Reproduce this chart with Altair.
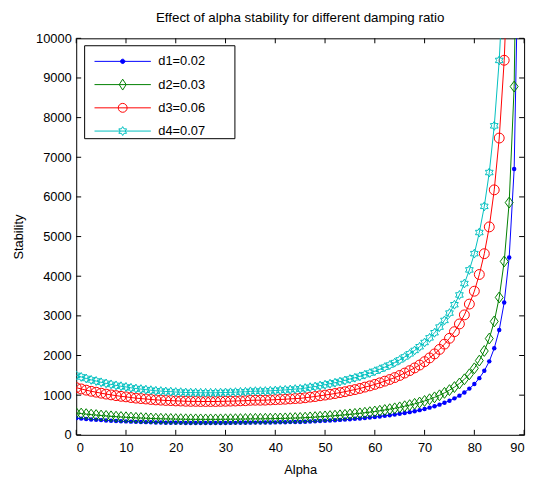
import altair as alt
import pandas as pd

# ---------------- data ----------------
alpha = [0, 1, 2, 3, 4, 5, 6, 7, 8, 9, 10, 11, 12, 13, 14, 15, 16, 17, 18, 19,
         20, 21, 22, 23, 24, 25, 26, 27, 28, 29, 30, 31, 32, 33, 34, 35, 36, 37, 38, 39,
         40, 41, 42, 43, 44, 45, 46, 47, 48, 49, 50, 51, 52, 53, 54, 55, 56, 57, 58, 59,
         60, 61, 62, 63, 64, 65, 66, 67, 68, 69, 70, 71, 72, 73, 74, 75, 76, 77, 78, 79,
         80, 81, 82, 83, 84, 85, 86, 87, 88, 89]

d1 = [420, 409, 398, 388, 380, 371, 363, 356, 349, 343,
      338, 332, 327, 323, 319, 315, 311, 309, 306, 305,
      302, 301, 299, 298, 298, 297, 297, 297, 297, 298,
      299, 300, 301, 303, 304, 307, 308, 308, 309, 311,
      313, 315, 317, 320, 323, 325, 330, 336, 341, 348,
      354, 361, 368, 376, 384, 394, 403, 413, 425, 436,
      449, 463, 478, 493, 510, 529, 550, 572, 596, 622,
      652, 685, 721, 761, 808, 860, 919, 988, 1069, 1165,
      1280, 1429, 1614, 1853, 2183, 2645, 3338, 4471, 6705, 13408]

d2 = [550, 536, 521, 508, 498, 486, 476, 466, 457, 449,
      443, 435, 428, 423, 418, 413, 407, 405, 401, 400,
      396, 394, 392, 390, 390, 389, 389, 389, 389, 390,
      392, 393, 394, 397, 398, 402, 403, 403, 405, 407,
      410, 413, 415, 419, 423, 426, 432, 440, 447, 456,
      464, 473, 482, 493, 503, 516, 528, 541, 557, 571,
      588, 607, 626, 646, 668, 693, 721, 749, 781, 815,
      854, 897, 945, 997, 1058, 1127, 1204, 1294, 1400, 1526,
      1677, 1872, 2114, 2427, 2860, 3465, 4373, 5857, 8784, 17565]

d3 = [1189, 1157, 1126, 1098, 1075, 1050, 1027, 1007, 988, 971,
      957, 940, 925, 914, 903, 891, 880, 874, 866, 863,
      855, 852, 846, 843, 843, 840, 840, 840, 840, 843,
      846, 849, 852, 857, 860, 869, 872, 872, 874, 880,
      886, 891, 897, 906, 914, 920, 934, 951, 965, 985,
      1002, 1022, 1041, 1064, 1087, 1115, 1140, 1169, 1203, 1234,
      1271, 1310, 1353, 1395, 1443, 1497, 1557, 1619, 1687, 1760,
      1845, 1939, 2040, 2154, 2287, 2434, 2601, 2796, 3025, 3297,
      3622, 4044, 4568, 5244, 6178, 7485, 9447, 12653, 18975, 37945]

d4 = [1499, 1460, 1421, 1385, 1357, 1324, 1296, 1271, 1246, 1225,
      1207, 1185, 1167, 1153, 1139, 1125, 1110, 1103, 1092, 1089,
      1078, 1075, 1067, 1064, 1064, 1060, 1060, 1060, 1060, 1064,
      1067, 1071, 1075, 1082, 1085, 1096, 1100, 1100, 1103, 1110,
      1117, 1125, 1132, 1142, 1153, 1160, 1178, 1200, 1217, 1242,
      1264, 1289, 1314, 1342, 1371, 1407, 1439, 1474, 1517, 1557,
      1603, 1653, 1706, 1760, 1821, 1889, 1964, 2042, 2128, 2221,
      2328, 2445, 2574, 2717, 2885, 3070, 3281, 3527, 3816, 4159,
      4570, 5102, 5762, 6615, 7793, 9443, 11917, 15961, 23937, 47867]

names = ["d1=0.02", "d2=0.03", "d3=0.06", "d4=0.07"]
colors = ["#0000ff", "#008000", "#ff0000", "#00bfbf"]
x_ticks = [0, 10, 20, 30, 40, 50, 60, 70, 80, 90]
y_ticks = [0, 1000, 2000, 3000, 4000, 5000, 6000, 7000, 8000, 9000, 10000]
title_text = "Effect of alpha stability for different damping ratio"

# ---------------- styling ----------------
FONT = "Liberation Sans"
W, H = 453, 401
TICK = 5

HEX = ("M0,-1L0.289,-0.5L0.866,-0.5L0.577,0L0.866,0.5L0.289,0.5L0,1"
       "L-0.289,0.5L-0.866,0.5L-0.577,0L-0.866,-0.5L-0.289,-0.5Z")
DIAMOND = "M0,-1L0.73,0L0,1L-0.73,0Z"
pt_shapes = ["circle", DIAMOND, "circle", HEX]
pt_sizes = [20, 121, 100, 81]
pt_filled = [True, False, False, False]

# legend symbols: line sample + marker, scaled for symbolSize 57^2
LINE = "M-1,0L1,0"
leg_paths = [
    LINE + "M0.077,0A0.077,0.077,0,1,1,-0.077,0A0.077,0.077,0,1,1,0.077,0Z",
    LINE + "M0,-0.193L0.123,0L0,0.193L-0.123,0Z",
    LINE + "M0.158,0A0.158,0.158,0,1,1,-0.158,0A0.158,0.158,0,1,1,0.158,0Z",
    LINE + ("M0,-0.158L0.0456,-0.079L0.137,-0.079L0.0912,0L0.137,0.079L0.0456,0.079"
            "L0,0.158L-0.0456,0.079L-0.137,0.079L-0.0912,0L-0.137,-0.079L-0.0456,-0.079Z"),
]
leg_fills = ["#0000ff", "transparent", "transparent", "transparent"]

rows = []
for name, vals in zip(names, [d1, d2, d3, d4]):
    for a, v in zip(alpha, vals):
        rows.append({"alpha": a, "stability": v, "series": name})
df = pd.DataFrame(rows)

xscale = alt.Scale(domain=[0, 90], nice=False, zero=False)
yscale = alt.Scale(domain=[0, 10000], nice=False, zero=False)
xaxis = alt.Axis(values=x_ticks, ticks=False, domain=False, grid=False,
                 labelPadding=7, titlePadding=9, format="d")
yaxis = alt.Axis(values=y_ticks, ticks=False, domain=False, grid=False,
                 labelPadding=5, titlePadding=10, format="d")


def X():
    return alt.X("alpha:Q", scale=xscale, axis=xaxis, title="Alpha")


def Y():
    return alt.Y("stability:Q", scale=yscale, axis=yaxis, title="Stability")


layers = []
for i, name in enumerate(names):
    base = alt.Chart(df).transform_filter(alt.datum.series == name)
    layers.append(base.mark_line(color=colors[i], strokeWidth=1, clip=True)
                  .encode(x=X(), y=Y()))
    if pt_filled[i]:
        pm = base.mark_point(shape=pt_shapes[i], size=pt_sizes[i], filled=True,
                             color=colors[i], opacity=1, clip=True)
    else:
        pm = base.mark_point(shape=pt_shapes[i], size=pt_sizes[i], filled=False,
                             stroke=colors[i], strokeWidth=1, opacity=1, clip=True)
    layers.append(pm.encode(x=X(), y=Y()))

# inward ticks on all four sides (MATLAB box style)
xt = pd.DataFrame({"alpha": x_ticks})
yt = pd.DataFrame({"stability": y_ticks})
layers.append(alt.Chart(xt).mark_rule(color="black", strokeWidth=1)
              .encode(x=X(), y=alt.value(H), y2=alt.value(H - TICK)))
layers.append(alt.Chart(xt).mark_rule(color="black", strokeWidth=1)
              .encode(x=X(), y=alt.value(0), y2=alt.value(TICK)))
layers.append(alt.Chart(yt).mark_rule(color="black", strokeWidth=1)
              .encode(y=Y(), x=alt.value(0), x2=alt.value(TICK)))
layers.append(alt.Chart(yt).mark_rule(color="black", strokeWidth=1)
              .encode(y=Y(), x=alt.value(W), x2=alt.value(W - TICK)))

# legend frame (white box with black border)
layers.append(
    alt.Chart(pd.DataFrame({"k": [0]}))
    .mark_rect(fill="white", stroke="black", strokeWidth=1)
    .encode(x=alt.value(8.5), x2=alt.value(160.5), y=alt.value(7.5), y2=alt.value(101.5))
)

# legend entries (from scales with explicit domains; the layer itself draws nothing)
leg = alt.Legend(title=None, orient="none", legendX=18, legendY=17.3, padding=0,
                 symbolSize=3249, symbolStrokeWidth=1, symbolOpacity=1,
                 clipHeight=12, rowPadding=10.5, labelOffset=7,
                 labelFont=FONT, labelFontSize=13, labelColor="black")
legend_df = pd.DataFrame({"series": names})
layers.append(
    alt.Chart(legend_df).transform_filter("false")
    .mark_point(opacity=1, strokeWidth=1)
    .encode(
        shape=alt.Shape("series:N", scale=alt.Scale(domain=names, range=leg_paths), legend=leg),
        stroke=alt.Stroke("series:N", scale=alt.Scale(domain=names, range=colors), legend=leg),
        fill=alt.Fill("series:N", scale=alt.Scale(domain=names, range=leg_fills), legend=leg),
    )
)

chart = (
    alt.layer(*layers)
    .properties(
        width=W, height=H,
        padding={"left": 69, "top": 28, "right": 10, "bottom": 40},
        autosize=alt.AutoSizeParams(type="none"),
        background="white",
        title=alt.Title(title_text, font=FONT, fontSize=13.5, fontWeight="normal",
                        color="black", anchor="middle", offset=8),
    )
    .configure_view(stroke="black", strokeWidth=1)
    .configure_axis(labelFont=FONT, labelFontSize=13, labelColor="black",
                    titleFont=FONT, titleFontSize=13, titleFontWeight="normal",
                    titleColor="black")
)

chart.save("out.html", embed_options={"renderer": "svg", "actions": False})
